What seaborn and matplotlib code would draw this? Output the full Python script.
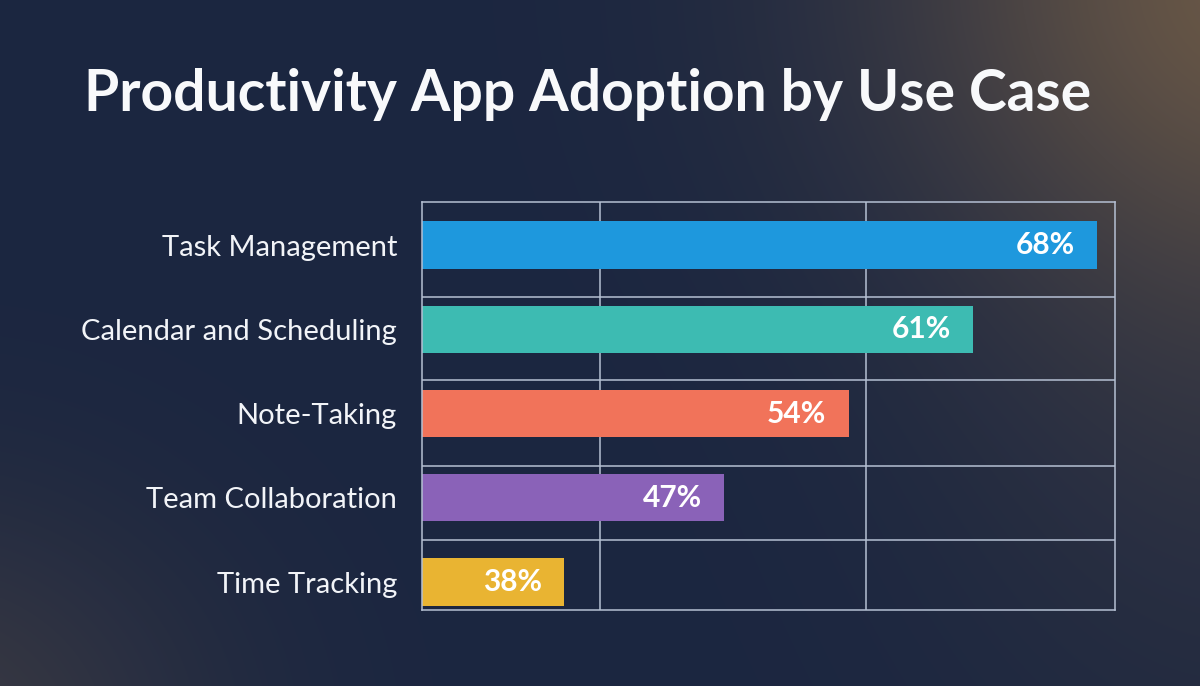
import numpy as np
import matplotlib.pyplot as plt
import seaborn as sns

# Data
use_cases = ["Task Management", "Calendar and Scheduling", "Note-Taking",
             "Team Collaboration", "Time Tracking"]
adoption = [68, 61, 54, 47, 38]
value_labels = ["68%", "61%", "54%", "47%", "38%"]
bar_colors = ["#1E98DD", "#3DBBB2", "#F1735A", "#8A62B8", "#E9B432"]

sns.set_style("dark")
plt.rcParams["font.family"] = ["Lato", "DejaVu Sans"]

grid_color = "#B5C0D3"
text_color = "#F2F4F8"

fig = plt.figure(figsize=(12, 6.86), dpi=100)

# Background: dark navy with warm glows in the corners
h, w = 343, 600
yy, xx = np.mgrid[0:h, 0:w]
base = np.array([27, 38, 64]) / 255.0
warm = np.array([125, 100, 72]) / 255.0
glow_tr = np.exp(-(((xx - 640) / 190.0) ** 2 + ((yy + 20) / 160.0) ** 2))
glow_bl = 0.3 * np.exp(-(((xx + 40) / 140.0) ** 2 + ((yy - 370) / 120.0) ** 2))
glow_r = 0.15 * np.exp(-(((xx - 620) / 160.0) ** 2 + ((yy - 200) / 200.0) ** 2))
mix = np.clip(glow_tr * 0.75 + glow_bl + glow_r, 0, 1)[..., None]
img = base * (1 - mix) + warm * mix
bg = fig.add_axes([0, 0, 1, 1], zorder=-1)
bg.imshow(img, aspect="auto", extent=[0, 1, 0, 1], interpolation="bilinear")
bg.axis("off")

ax = fig.add_axes([0.3517, 0.111, 0.5775, 0.5945])
sns.barplot(x=adoption, y=use_cases, hue=use_cases, palette=bar_colors,
            orient="h", width=0.56, saturation=1, legend=False,
            edgecolor="none", linewidth=0, ax=ax)
ax.set_facecolor("none")
ax.set_xlim(30, 69)
ax.set_ylim(4.33, -0.51)
ax.set_xlabel("")
ax.set_ylabel("")

# grid: vertical lines on major x ticks, horizontal lines between rows
ax.set_xticks([40, 55])
ax.set_yticks([0.62, 1.6, 2.62, 3.5], minor=True)
ax.set_axisbelow(True)
ax.grid(axis="x", which="major", color=grid_color, linewidth=1.1)
ax.grid(axis="y", which="minor", color=grid_color, linewidth=1.1)
ax.grid(axis="y", which="major", visible=False)
ax.tick_params(which="both", length=0)
ax.tick_params(axis="x", labelbottom=False)
ax.tick_params(axis="y", labelsize=21, labelcolor=text_color, pad=18)
for s in ax.spines.values():
    s.set_visible(True)
    s.set_color(grid_color)
    s.set_linewidth(1.1)

for i, (v, lab) in enumerate(zip(adoption, value_labels)):
    ax.annotate(lab, xy=(v, i), xytext=(-16, 0), textcoords="offset points",
                ha="right", va="center", color="white", fontsize=21.5,
                fontweight="bold")

fig.text(0.49, 0.862, "Productivity App Adoption by Use Case", ha="center",
         va="center", fontsize=41, fontweight="bold", color="#F8F9FB")

fig.savefig("out.png", dpi=100)
